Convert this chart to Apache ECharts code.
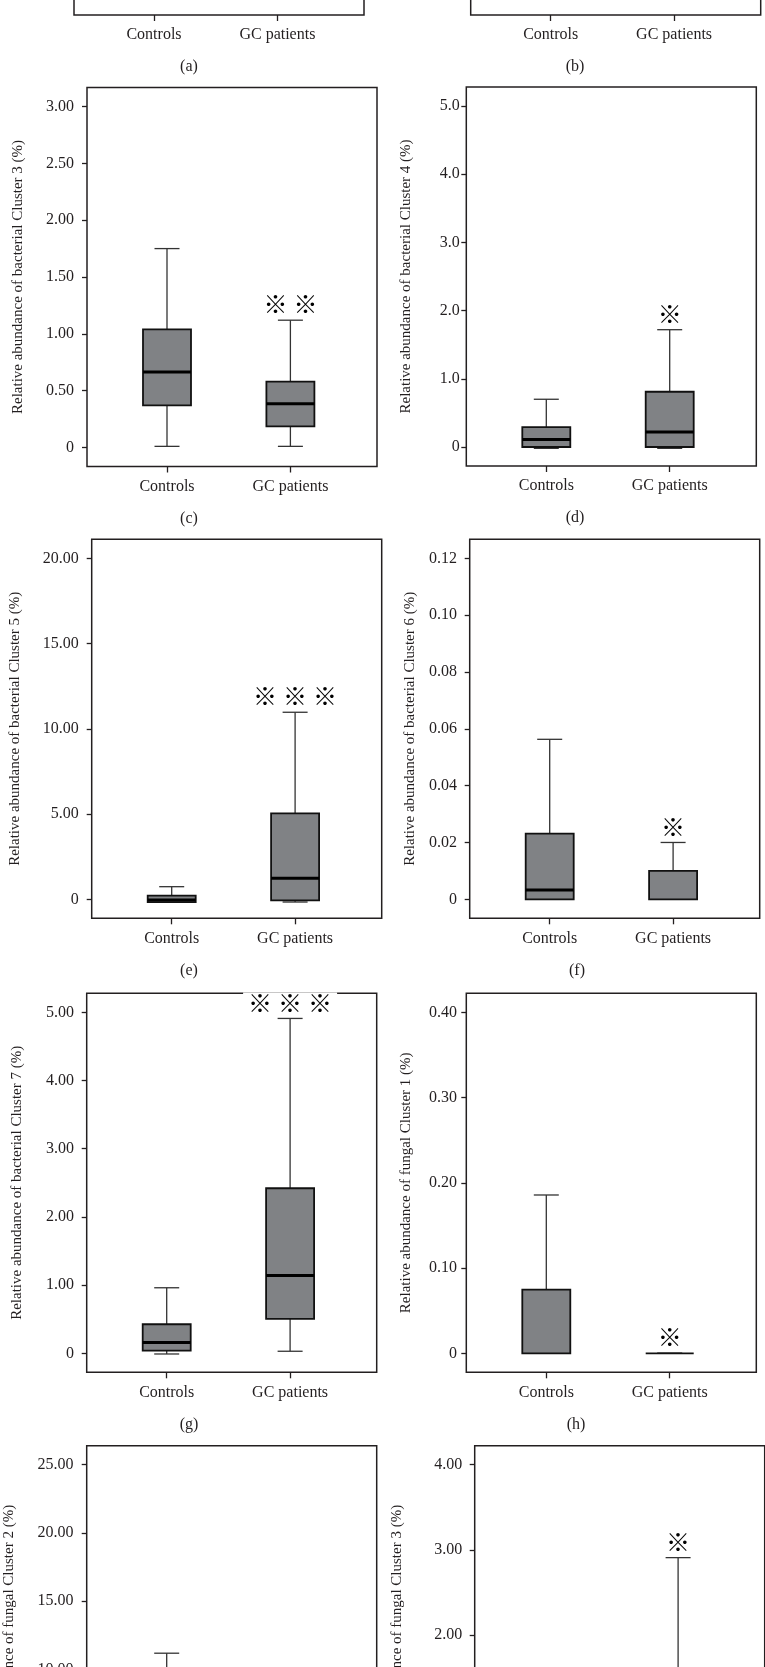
<!DOCTYPE html>
<html><head><meta charset="utf-8">
<script src="https://cdn.jsdelivr.net/npm/echarts@6/dist/echarts.min.js"></script>
<style>html,body{margin:0;padding:0;background:#fff}#c{width:765px;height:1667px}</style>
</head><body><div id="c"></div>
<script>
// ---------- data ----------
const categories = ['Controls', 'GC patients'];
const panelLetters = ['(a)', '(b)', '(c)', '(d)', '(e)', '(f)', '(g)', '(h)', '(i)', '(j)'];
const yTitles = [
  'Relative abundance of bacterial Cluster 1 (%)',
  'Relative abundance of bacterial Cluster 2 (%)',
  'Relative abundance of bacterial Cluster 3 (%)',
  'Relative abundance of bacterial Cluster 4 (%)',
  'Relative abundance of bacterial Cluster 5 (%)',
  'Relative abundance of bacterial Cluster 6 (%)',
  'Relative abundance of bacterial Cluster 7 (%)',
  'Relative abundance of fungal Cluster 1 (%)',
  'Relative abundance of fungal Cluster 2 (%)',
  'Relative abundance of fungal Cluster 3 (%)'
];
const ticksA = ['0'];
const ticksB = ['0'];
const ticksC = ['0', '0.50', '1.00', '1.50', '2.00', '2.50', '3.00'];
const ticksD = ['0', '1.0', '2.0', '3.0', '4.0', '5.0'];
const ticksE = ['0', '5.00', '10.00', '15.00', '20.00'];
const ticksF = ['0', '0.02', '0.04', '0.06', '0.08', '0.10', '0.12'];
const ticksG = ['0', '1.00', '2.00', '3.00', '4.00', '5.00'];
const ticksH = ['0', '0.10', '0.20', '0.30', '0.40'];
const ticksI = ['0', '5.00', '10.00', '15.00', '20.00', '25.00'];
const ticksJ = ['0', '1.00', '2.00', '3.00', '4.00'];

// box statistics: [lower whisker, Q1, median, Q3, upper whisker]
const c3Controls = [0.01, 0.37, 0.665, 1.04, 1.75];
const c3Patients = [0.01, 0.185, 0.385, 0.58, 1.12];
const c3Marks = [0, 2];
const c4Controls = [-0.02, 0, 0.11, 0.29, 0.70];
const c4Patients = [-0.02, 0, 0.22, 0.81, 1.72];
const c4Marks = [0, 1];
const c5Controls = [-0.17, -0.17, -0.04, 0.215, 0.74];
const c5Patients = [-0.16, -0.06, 1.23, 5.04, 10.97];
const c5Marks = [0, 3];
const c6Controls = [0, 0, 0.0033, 0.0231, 0.0563];
const c6Patients = [0, 0, 0, 0.01, 0.02];
const c6Marks = [0, 1];
const c7Controls = [-0.01, 0.04, 0.157, 0.426, 0.961];
const c7Patients = [0.03, 0.505, 1.14, 2.42, 4.91];
const c7Marks = [0, 3];
const f1Controls = [0, 0, 0, 0.0748, 0.1857];
const f1Patients = [0, 0, 0, 0, 0];
const f1Marks = [0, 1];
// only the upper whisker is visible for (i) and (j); lower stats are off-page estimates
const f2Controls = [0, 0.3, 1.5, 5.5, 11.18];
const f2Marks = [0];
const f3Patients = [0, 0.05, 0.3, 1.2, 2.91];
const f3Marks = [1];

// ---------- layout ----------
const W = 290, H = 379;
const layout = [
  { left: 74, top: -364, nameX: 10, margin: 12, letterX: 189 },
  { left: 470.7, top: -364, nameX: 400, margin: 13, letterX: 575 },
  { left: 87, top: 87.5, nameX: 18, margin: 13, letterX: 189 },
  { left: 466.3, top: 87, nameX: 406, margin: 6.5, letterX: 575 },
  { left: 91.7, top: 539.3, nameX: 15, margin: 13, letterX: 189 },
  { left: 469.7, top: 539.3, nameX: 409.7, margin: 12.7, letterX: 577 },
  { left: 86.7, top: 993.3, nameX: 17, margin: 12.7, letterX: 189 },
  { left: 466.3, top: 993.3, nameX: 405.7, margin: 9.3, letterX: 576 },
  { left: 86.7, top: 1445.7, nameX: 8.5, margin: 13.3, letterX: 189 },
  { left: 474.7, top: 1445.7, nameX: 397, margin: 12.4, letterX: 575 }
];
const tickSets = [ticksA, ticksB, ticksC, ticksD, ticksE, ticksF, ticksG, ticksH, ticksI, ticksJ];
const topTicks = [1, 1, null, null, null, null, null, null, null, null];
const boxSets = [
  [], [],
  [[1, c3Controls, c3Marks[0]], [2, c3Patients, c3Marks[1]]],
  [[1, c4Controls, c4Marks[0]], [2, c4Patients, c4Marks[1]]],
  [[1, c5Controls, c5Marks[0]], [2, c5Patients, c5Marks[1]]],
  [[1, c6Controls, c6Marks[0]], [2, c6Patients, c6Marks[1]]],
  [[1, c7Controls, c7Marks[0]], [2, c7Patients, c7Marks[1]]],
  [[1, f1Controls, f1Marks[0]], [2, f1Patients, f1Marks[1]]],
  [[1, f2Controls, f2Marks[0]]],
  [[2, f3Patients, f3Marks[0]]]
];

const FONT = 'Liberation Serif';
const TXT = '#231f20';
const LINE = '#231f20';

function renderBox(params, api) {
  const xi = api.value(0);
  const v = [1, 2, 3, 4, 5].map(i => api.value(i));
  const marks = api.value(6);
  const p = v.map(val => api.coord([xi, val]));
  const cx = p[0][0];
  const bw = 48, cw = 25;
  const ws = { stroke: '#333', lineWidth: 1.3 };
  const ch = [];
  ch.push({ type: 'line', shape: { x1: cx, y1: p[4][1], x2: cx, y2: p[3][1] }, style: ws });
  ch.push({ type: 'line', shape: { x1: cx, y1: p[1][1], x2: cx, y2: p[0][1] }, style: ws });
  ch.push({ type: 'line', shape: { x1: cx - cw / 2, y1: p[4][1], x2: cx + cw / 2, y2: p[4][1] }, style: ws });
  ch.push({ type: 'line', shape: { x1: cx - cw / 2, y1: p[0][1], x2: cx + cw / 2, y2: p[0][1] }, style: ws });
  ch.push({ type: 'rect', shape: { x: cx - bw / 2, y: p[3][1], width: bw, height: p[1][1] - p[3][1] },
    style: { fill: '#808285', stroke: '#111', lineWidth: 1.8 } });
  if (Math.abs(v[2] - v[1]) > 1e-12) {
    ch.push({ type: 'line', shape: { x1: cx - bw / 2, y1: p[2][1], x2: cx + bw / 2, y2: p[2][1] },
      style: { stroke: '#000', lineWidth: 3 } });
  }
  if (marks > 0) {
    const my = p[4][1] - 16;
    const sp = 30;
    ch.push({ type: 'rect', shape: { x: cx - (marks * sp) / 2 - 2, y: my - 10, width: marks * sp + 4, height: 20 },
      style: { fill: '#fff' } });
    for (let k = 0; k < marks; k++) {
      ch.push({ type: 'text', x: cx + (k - (marks - 1) / 2) * sp, y: my,
        style: { text: '\u203B', fill: '#000', font: 'bold 24px "Noto Sans CJK SC"', align: 'center', verticalAlign: 'middle' } });
    }
  }
  return { type: 'group', children: ch };
}

const grid = [], xAxis = [], yAxis = [], series = [], graphic = [];
layout.forEach((L, i) => {
  grid.push({ left: L.left, top: L.top, width: W, height: H, show: true, borderColor: LINE, borderWidth: 1.5,
    backgroundColor: 'transparent', containLabel: false, outerBoundsMode: 'none' });
  const labels = tickSets[i];
  const vals = labels.map(Number);
  const topV = topTicks[i] != null ? topTicks[i] : vals[vals.length - 1];
  const pad = topV * 19 / 341;
  xAxis.push({
    gridIndex: i, type: 'value', min: 1 - 80 / 123.4, max: 2 + 86.6 / 123.4,
    axisLine: { show: false, onZero: false }, splitLine: { show: false },
    axisTick: { show: true, customValues: [1, 2], length: 6, lineStyle: { color: LINE, width: 1.3 } },
    axisLabel: { customValues: [1, 2], formatter: v => categories[Math.round(v) - 1], margin: 12,
      fontSize: 16, fontFamily: FONT, color: TXT }
  });
  yAxis.push({
    gridIndex: i, type: 'value', min: -pad, max: topV + pad,
    axisLine: { show: false }, splitLine: { show: false },
    axisTick: { show: true, customValues: vals, length: 5, lineStyle: { color: LINE, width: 1.3 } },
    axisLabel: { customValues: vals, margin: L.margin, fontSize: 16, fontFamily: FONT, color: TXT,
      formatter: v => { const k = vals.findIndex(t => Math.abs(t - v) < 1e-9); return k >= 0 ? labels[k] : ''; } },
    name: yTitles[i], nameLocation: 'middle', nameRotate: 90, nameGap: L.left - L.nameX - 8,
    nameTextStyle: { fontSize: 15, fontFamily: FONT, color: TXT }
  });
  const data = boxSets[i].map(b => [b[0], ...b[1], b[2]]);
  if (data.length) {
    series.push({ type: 'custom', xAxisIndex: i, yAxisIndex: i, renderItem: renderBox, clip: false,
      encode: { x: 0, y: [1, 2, 3, 4, 5] }, data: data, z: 5 });
  }
  graphic.push({ type: 'text', x: L.letterX, y: L.top + H + 52,
    style: { text: panelLetters[i], font: '16px "Liberation Serif"', fill: TXT, align: 'center', verticalAlign: 'middle',
      textAlign: 'center', textVerticalAlign: 'middle' } });
});

const chart = echarts.init(document.getElementById('c'), null, { renderer: 'canvas' });
chart.setOption({ animation: false, backgroundColor: '#fff', grid, xAxis, yAxis, series, graphic });
</script></body></html>
